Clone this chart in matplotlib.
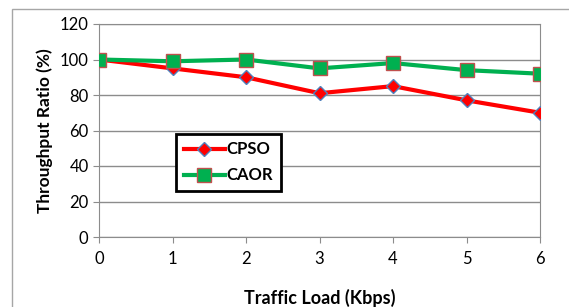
import matplotlib.pyplot as plt
from matplotlib.patches import Rectangle

# Data
traffic_load = [0, 1, 2, 3, 4, 5, 6]
cpso = [100, 95, 90, 81, 85, 77, 70]
caor = [100, 99, 100, 95, 98, 94, 92]
y_ticks = [0, 20, 40, 60, 80, 100, 120]

plt.rcParams['font.family'] = ['Lato', 'DejaVu Sans']

W, H = 569, 307
fig = plt.figure(figsize=(W / 100, H / 100), dpi=100)
ax = fig.add_axes([99 / W, 1 - 237 / H, (540 - 99) / W, (237 - 24) / H])

# outer chart border (Excel style)
fig.patches.append(Rectangle((12 / W, -0.1), 1.2, 1 - 9 / H + 0.1, transform=fig.transFigure,
                             fill=False, edgecolor='#a6a6a6', linewidth=1.0))

ax.plot(traffic_load, cpso, color='#ff0000', linewidth=3, marker='D', markersize=7,
        markerfacecolor='#ff0000', markeredgecolor='#4f81bd', markeredgewidth=1.0,
        label='CPSO', zorder=3)
ax.plot(traffic_load, caor, color='#00b050', linewidth=3, marker='s', markersize=10,
        markerfacecolor='#00b050', markeredgecolor='#c0504d', markeredgewidth=1.0,
        label='CAOR', zorder=4)

ax.set_xlim(0, 6)
ax.set_ylim(0, 120)
ax.set_xticks(traffic_load)
ax.set_yticks(y_ticks)
ax.grid(axis='y', color='#8c8c8c', linewidth=1)
ax.set_axisbelow(True)
for s in ax.spines.values():
    s.set_color('#8c8c8c')
ax.tick_params(axis='both', direction='out', length=4, color='#8c8c8c', labelsize=12)
ax.tick_params(axis='x', pad=6)

ax.set_xlabel('Traffic Load (Kbps)', fontsize=13, fontweight='bold', labelpad=16)
ax.set_ylabel('Throughput Ratio (%)', fontsize=12.5, fontweight='bold', labelpad=5)

leg = ax.legend(loc='upper left', bbox_to_anchor=(77 / 441, 103 / 213), fancybox=False,
                edgecolor='black', framealpha=1, fontsize=12, handlelength=2.5,
                borderpad=0.45, labelspacing=0.6, handletextpad=0.1, borderaxespad=0)
leg.get_frame().set_linewidth(2)
for t in leg.get_texts():
    t.set_fontweight('bold')

fig.savefig('out.png', dpi=100)
